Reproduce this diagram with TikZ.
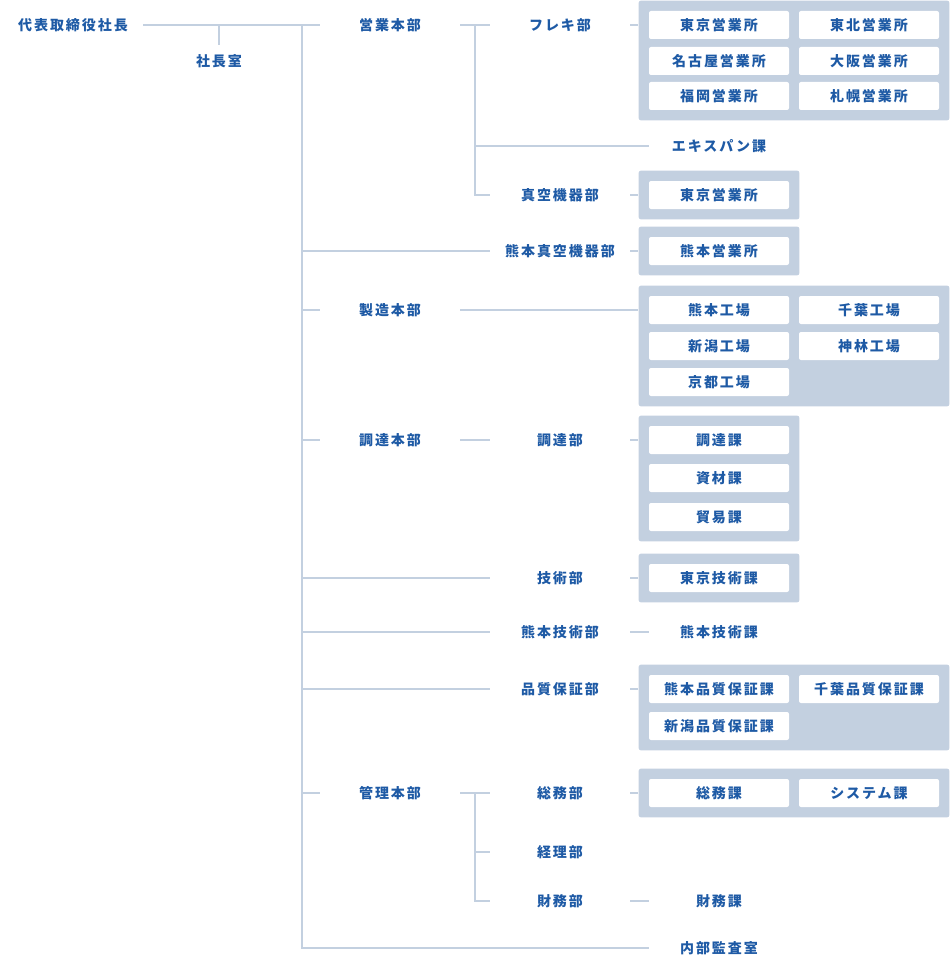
\documentclass[tikz,border=0pt]{standalone}
\usepackage{fontspec}
\setmainfont{Noto Sans CJK JP}[LetterSpace=14]
\usetikzlibrary{fit,backgrounds}
\definecolor{orgtext}{HTML}{1E5AA5}
\definecolor{orgline}{HTML}{C3D0E0}

\begin{document}
\begin{tikzpicture}[x=0.75pt,y=-0.75pt,
  unit node/.style={font=\bfseries\fontsize{10.5pt}{12pt}\selectfont,text=orgtext,
    minimum width=105pt,minimum height=21pt,inner sep=0pt},
  sect node/.style={unit node,fill=white,rounded corners=1.5pt},
  group node/.style={fill=orgline,rounded corners=1.5pt,inner sep=7.5pt},
  link/.style={draw=orgline,line width=1.5pt}]

  \useasboundingbox (0,0) rectangle (950,970);

  \node[unit node] (0) at (73,25) {代表取締役社長};
  \node[unit node,minimum height=24pt] (1) at (219,61) {社長室};

  \node[unit node] (10) at (390,25) {営業本部};
  \node[unit node] (11) at (390,310) {製造本部};
  \node[unit node] (12) at (390,440) {調達本部};
  \node[unit node] (13) at (390,793) {管理本部};

  \node[unit node] (20) at (560,25) {フレキ部};
  \node[unit node] (21) at (560,195) {真空機器部};
  \node[unit node] (22) at (560,251) {熊本真空機器部};
  \node[unit node] (23) at (560,440) {調達部};
  \node[unit node] (24) at (560,578) {技術部};
  \node[unit node] (25) at (560,632) {熊本技術部};
  \node[unit node] (26) at (560,689) {品質保証部};
  \node[unit node] (27) at (560,793) {総務部};
  \node[unit node] (28) at (560,852) {経理部};
  \node[unit node] (29) at (560,901) {財務部};

  \node[unit node] (30) at (719,146) {エキスパン課};
  \node[unit node] (31) at (719,632) {熊本技術課};
  \node[unit node] (32) at (719,901) {財務課};
  \node[unit node] (33) at (719,948) {内部監査室};

  \node[sect node] (40) at (719,25) {東京営業所};
  \node[sect node] (41) at (869,25) {東北営業所};
  \node[sect node] (42) at (719,61) {名古屋営業所};
  \node[sect node] (43) at (869,61) {大阪営業所};
  \node[sect node] (44) at (719,96) {福岡営業所};
  \node[sect node] (45) at (869,96) {札幌営業所};
  \node[sect node] (46) at (719,195) {東京営業所};
  \node[sect node] (47) at (719,251) {熊本営業所};

  \node[sect node] (50) at (719,310) {熊本工場};
  \node[sect node] (51) at (869,310) {千葉工場};
  \node[sect node] (52) at (719,346) {新潟工場};
  \node[sect node] (53) at (869,346) {神林工場};
  \node[sect node] (54) at (719,382) {京都工場};
  \node[sect node] (55) at (719,440) {調達課};
  \node[sect node] (56) at (719,478) {資材課};
  \node[sect node] (57) at (719,517) {貿易課};
  \node[sect node] (58) at (719,578) {東京技術課};

  \node[sect node] (60) at (719,689) {熊本品質保証課};
  \node[sect node] (61) at (869,689) {千葉品質保証課};
  \node[sect node] (62) at (719,726) {新潟品質保証課};
  \node[sect node] (63) at (719,793) {総務課};
  \node[sect node] (64) at (869,793) {システム課};

  \begin{scope}[on background layer]
    \node[group node,fit=(40)(45)] (g0) {};
    \node[group node,fit=(46)] (g1) {};
    \node[group node,fit=(47)] (g2) {};
    \node[group node,fit=(50)(51)(54)] (g3) {};
    \node[group node,fit=(55)(57)] (g4) {};
    \node[group node,fit=(58)] (g5) {};
    \node[group node,fit=(60)(61)(62)] (g6) {};
    \node[group node,fit=(63)(64)] (g7) {};
  \end{scope}

  \coordinate (t) at (302,0);
  \coordinate (s) at (475,0);

  \path[link]
   (0) edge (10)
   (10) edge (20)
   (12) edge (23)
   (13) edge (27)
   (25) edge (31)
   (29) edge (32);

  \draw[link] (1.north) -- (1.north |- 0.east);
  \draw[link] (t |- 10.west) -- (t |- 33.west) -- (33.west);
  \foreach \n in {11,12,13,22,24,25,26}
    \draw[link] (t |- \n.west) -- (\n.west);

  \draw[link] (s |- 10.east) -- (s |- 21.west) -- (21.west);
  \draw[link] (s |- 30.west) -- (30.west);
  \draw[link] (s |- 13.east) -- (s |- 29.west) -- (29.west);
  \draw[link] (s |- 28.west) -- (28.west);

  \foreach \a/\b in {20/g0,21/g1,22/g2,11/g3,23/g4,24/g5,26/g6,27/g7}
    \draw[link] (\a.east) -- (\a.east -| \b.west);
\end{tikzpicture}
\end{document}
